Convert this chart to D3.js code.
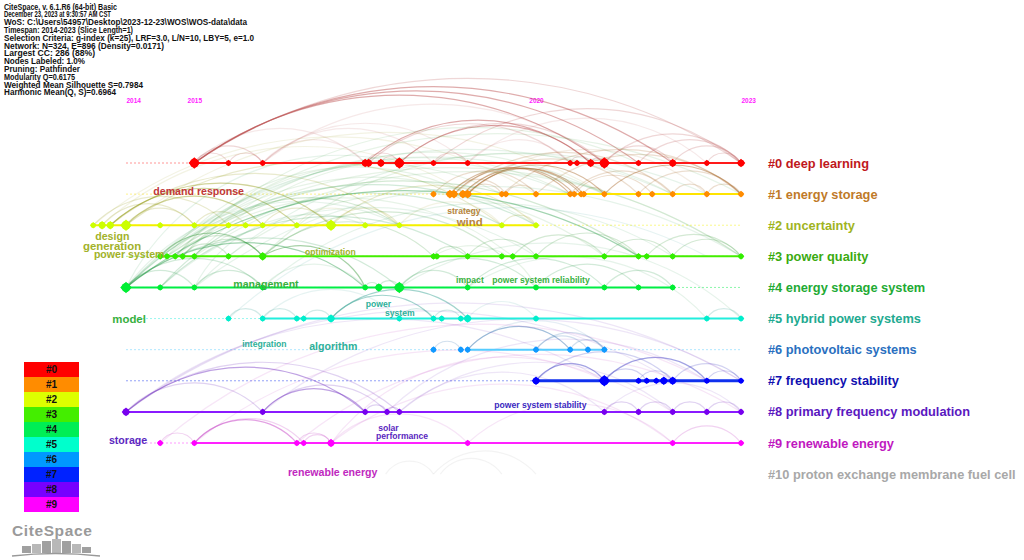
<!DOCTYPE html>
<html>
<head>
<meta charset="utf-8">
<script src="https://cdn.jsdelivr.net/npm/d3@7"></script>
<style>
    body { margin: 0; background: #fff; }
    svg { display: block; font-family: 'Liberation Sans', Arial, sans-serif; }
</style>
</head>
<body>
<svg id="mainSvg" width="1024" height="560"></svg>
<script>
// * header lines of the CiteSpace run
let headerLines = [
    'CiteSpace, v. 6.1.R6 (64-bit) Basic',
    'December 23, 2023 at 9:30:57 AM CST',
    'WoS: C:\\Users\\54957\\Desktop\\2023-12-23\\WOS\\WOS-data\\data',
    'Timespan: 2014-2023 (Slice Length=1)',
    'Selection Criteria: g-index (k=25), LRF=3.0, L/N=10, LBY=5, e=1.0',
    'Network: N=324, E=896 (Density=0.0171)',
    'Largest CC: 286 (88%)',
    'Nodes Labeled: 1.0%',
    'Pruning: Pathfinder',
    'Modularity Q=0.6175',
    'Weighted Mean Silhouette S=0.7984',
    'Harmonic Mean(Q, S)=0.6964'
]
// * printed width of each header line (the CiteSpace font is narrow)
let headerWidths = [113, 107, 243, 129, 250, 160, 91, 81, 76, 71, 139, 112]

let yearTicks = [2014, 2015, 2020, 2023]

let clusterNames = [
    '#0 deep learning', '#1 energy storage', '#2 uncertainty', '#3 power quality',
    '#4 energy storage system', '#5 hybrid power systems', '#6 photovoltaic systems',
    '#7 frequency stability', '#8 primary frequency modulation', '#9 renewable energy',
    '#10 proton exchange membrane fuel cell'
]

// * nodes per cluster: [year, size class]
let nodes0 = [[2015, 3], [2015.5, 1], [2016, 1], [2017.5, 2], [2017.55, 2], [2017.73, 2], [2018, 3], [2018.5, 1], [2019, 1],
    [2020.5, 1], [2020.6, 1], [2020.8, 2], [2021, 3], [2021.5, 1], [2022, 2], [2022.5, 1], [2023, 2]]
let nodes1 = [[2018.5, 1], [2018.74, 2], [2018.8, 2], [2018.93, 2], [2019, 2], [2019.5, 1], [2019.56, 1], [2020, 1], [2020.5, 1],
    [2020.56, 1], [2020.66, 1], [2020.7, 1], [2021, 1], [2021.5, 1], [2021.7, 1], [2022, 1], [2022.5, 1], [2023, 1]]
let nodes2 = [[2013.52, 1], [2013.65, 2], [2013.77, 2], [2014, 3], [2014.5, 1], [2015, 1], [2015.5, 1], [2015.75, 1], [2016, 1],
    [2016.5, 1], [2017, 3], [2017.5, 1], [2018, 1], [2019.5, 1], [2020, 1]]
let nodes3 = [[2014.5, 1], [2014.6, 1], [2014.72, 1], [2014.83, 1], [2015, 1], [2015.5, 1], [2016, 2], [2018.5, 1], [2018.55, 1],
    [2019, 1], [2019.5, 1], [2019.66, 1], [2020, 1], [2021, 1], [2021.5, 1], [2021.62, 1], [2022, 1], [2023, 1]]
let nodes4 = [[2014, 3], [2014.5, 1], [2015, 1], [2016, 1], [2017.5, 1], [2017.7, 2], [2018, 3], [2019, 1], [2020, 1],
    [2021, 1], [2021.5, 1], [2022, 1]]
let nodes5 = [[2015.5, 1], [2016, 1], [2016.5, 1], [2016.6, 1], [2017, 2], [2018, 1], [2018.5, 1], [2018.62, 1], [2018.9, 1],
    [2019, 2], [2020, 1], [2022.5, 1], [2023, 1]]
let nodes6 = [[2018.5, 1], [2018.9, 1], [2019, 1], [2020, 1], [2020.5, 1], [2020.76, 1], [2021, 1]]
let nodes7 = [[2020, 2], [2021, 3], [2021.5, 1], [2021.62, 1], [2021.76, 1], [2021.87, 2], [2022, 2], [2022.5, 1], [2023, 1]]
let nodes8 = [[2014, 2], [2016, 1], [2017.5, 1], [2017.82, 1], [2018, 1], [2021, 1], [2021.5, 1], [2022, 1], [2022.5, 1], [2023, 1]]
let nodes9 = [[2014.5, 1], [2015, 1], [2016.5, 1], [2016.6, 1], [2017, 2], [2019, 1], [2022, 1], [2023, 1]]
let clusterNodes = [nodes0, nodes1, nodes2, nodes3, nodes4, nodes5, nodes6, nodes7, nodes8, nodes9, []]

// * active span of each timeline [from, to]
let activeSpan = [[2015, 2023], [2019, 2023], [2013.52, 2020], [2014.5, 2023], [2014, 2022], [2016, 2023],
    [2019, 2021], [2020, 2023], [2014, 2023], [2015, 2023], null]

// * co-citation links: [cluster, year, cluster, year, strength 1 strong .. 3 faint]
let links = [
    [0, 2015, 0, 2023, 2], [0, 2015, 0, 2022, 1], [0, 2015, 0, 2021.5, 1], [0, 2015, 0, 2021, 1], [0, 2015, 0, 2015.5, 2],
    [0, 2015.5, 0, 2016, 2], [0, 2015, 0, 2016, 2], [0, 2016, 0, 2017.5, 3], [0, 2017.5, 0, 2018, 2], [0, 2017.73, 0, 2018, 2],
    [0, 2017.5, 0, 2020.8, 1], [0, 2017.55, 0, 2020.5, 2], [0, 2018, 0, 2020.8, 1], [0, 2018, 0, 2021, 2], [0, 2018.5, 0, 2023, 2],
    [0, 2018.5, 0, 2019, 2], [0, 2019, 0, 2020.5, 3], [0, 2020.5, 0, 2020.8, 2], [0, 2020.8, 0, 2021, 2], [0, 2021, 0, 2023, 2],
    [0, 2021.5, 0, 2023, 2], [0, 2022, 0, 2023, 2], [0, 2022.5, 0, 2023, 2], [0, 2021, 0, 2022, 2], [0, 2016, 0, 2019, 3],
    [0, 2016, 0, 2018.5, 3], [0, 2015, 0, 2017.5, 3], [0, 2019, 0, 2022.5, 3], [0, 2016, 0, 2021, 3],

    [1, 2018.74, 1, 2020.5, 1], [1, 2018.8, 1, 2020.56, 1], [1, 2018.93, 1, 2020.66, 1], [1, 2019, 1, 2020.7, 1],
    [1, 2018.5, 1, 2020, 2], [1, 2019, 1, 2021, 1], [1, 2018.93, 1, 2021.5, 2], [1, 2019.5, 1, 2023, 2], [1, 2020, 1, 2023, 2],
    [1, 2021, 1, 2023, 1], [1, 2021.5, 1, 2023, 2], [1, 2020.5, 1, 2022, 2], [1, 2020.56, 1, 2021.7, 2], [1, 2022, 1, 2022.5, 2],
    [1, 2022.5, 1, 2023, 2], [1, 2019, 1, 2019.5, 2], [1, 2019.56, 1, 2020, 2], [1, 2020.7, 1, 2021, 2], [1, 2018.8, 1, 2022, 2],
    [1, 2019, 1, 2022.5, 3], [1, 2018.74, 1, 2019.56, 2],

    [2, 2013.77, 2, 2016.5, 1], [2, 2013.77, 2, 2017, 1], [2, 2014, 2, 2016, 1], [2, 2013.65, 2, 2015, 2], [2, 2013.52, 2, 2015.5, 2],
    [2, 2014, 2, 2015, 2], [2, 2013.77, 2, 2018, 2], [2, 2014, 2, 2019.5, 2], [2, 2015, 2, 2015.75, 2], [2, 2016, 2, 2017, 2],
    [2, 2017, 2, 2018, 2], [2, 2017, 2, 2020, 2], [2, 2018, 2, 2019.5, 3], [2, 2019.5, 2, 2020, 2], [2, 2016.5, 2, 2017.5, 3],
    [2, 2013.52, 1, 2020, 3], [2, 2013.65, 1, 2019, 3], [2, 2014, 1, 2021, 3],

    [3, 2014.5, 3, 2016, 1], [3, 2014.72, 3, 2016, 2], [3, 2014.83, 3, 2015.5, 2], [3, 2015, 3, 2016, 2], [3, 2016, 3, 2018.5, 2],
    [3, 2016, 3, 2019.5, 2], [3, 2018.5, 3, 2019, 2], [3, 2019, 3, 2020, 2], [3, 2019.66, 3, 2021, 2], [3, 2020, 3, 2021.5, 2],
    [3, 2021, 3, 2022, 2], [3, 2021.62, 3, 2023, 2], [3, 2022, 3, 2023, 2], [3, 2014.5, 3, 2023, 3], [3, 2014.6, 3, 2021.5, 2],
    [4, 2014, 3, 2021.5, 1], [4, 2014, 2, 2020, 2], [3, 2014.72, 1, 2019.5, 3], [3, 2014.83, 1, 2021, 3], [4, 2014, 1, 2020.5, 3],
    [3, 2014.6, 2, 2020, 3], [4, 2014.5, 3, 2019, 2], [3, 2015, 3, 2023, 3], [4, 2014, 0, 2018, 3], [4, 2014, 1, 2021, 3],
    [4, 2014, 1, 2022, 3], [3, 2014.5, 1, 2023, 3], [3, 2014.72, 0, 2021.5, 3], [4, 2015, 1, 2022.5, 3], [3, 2016, 4, 2017.5, 1],
    [3, 2018.5, 4, 2020, 3], [4, 2014.5, 2, 2019.5, 2], [3, 2014.83, 2, 2018, 2], [3, 2015, 1, 2020.5, 3], [3, 2014.6, 1, 2019, 3],
    [4, 2015, 2, 2017.5, 3], [4, 2014.5, 3, 2020, 3], [3, 2015.5, 3, 2021, 3], [4, 2016, 3, 2022, 3], [3, 2016, 1, 2022, 3],
    [4, 2014, 2, 2018, 3], [3, 2014.72, 3, 2019.66, 3], [4, 2015, 3, 2023, 3],

    [4, 2014, 4, 2015, 2], [4, 2014, 4, 2016, 2], [4, 2014, 4, 2017.5, 1], [4, 2015, 4, 2016, 2], [4, 2016, 4, 2017.5, 3],
    [4, 2017.5, 4, 2017.7, 2], [4, 2017.7, 4, 2018, 2], [4, 2018, 4, 2019, 2], [4, 2018, 4, 2020, 2], [4, 2019, 4, 2021, 2],
    [4, 2020, 4, 2021.5, 2], [4, 2021, 4, 2022, 2], [4, 2014, 4, 2018, 2], [4, 2018, 5, 2023, 3], [4, 2019, 5, 2022.5, 3],

    [5, 2015.5, 5, 2016, 2], [5, 2016, 5, 2016.5, 2], [5, 2016.6, 5, 2017, 2], [5, 2017, 5, 2018.5, 1], [5, 2017, 5, 2019, 1],
    [5, 2018, 5, 2018.5, 2], [5, 2018.5, 5, 2018.9, 2], [5, 2019, 5, 2020, 3], [5, 2016, 5, 2018, 3], [5, 2022.5, 5, 2023, 2],
    [5, 2015.5, 3, 2022.5, 3],

    [6, 2018.5, 6, 2018.9, 2], [6, 2019, 6, 2020.5, 1], [6, 2020, 6, 2020.76, 2], [6, 2020.5, 6, 2021, 2], [6, 2019, 6, 2021, 3],
    [6, 2020, 6, 2021, 2],

    [7, 2020, 7, 2021, 1], [7, 2021, 7, 2022.5, 1], [7, 2020, 7, 2022, 2], [7, 2022.5, 7, 2023, 2], [7, 2022, 7, 2023, 2],
    [7, 2021, 7, 2021.62, 2], [7, 2021.5, 7, 2022, 2],

    [8, 2014, 8, 2016, 2], [8, 2014, 8, 2017.5, 1], [8, 2014, 8, 2018, 2], [8, 2016, 8, 2017.5, 1], [8, 2016, 8, 2017.82, 2],
    [8, 2017.5, 8, 2017.82, 2], [8, 2017.82, 8, 2018, 2], [8, 2021, 8, 2021.5, 2], [8, 2021.5, 8, 2022, 2], [8, 2022, 8, 2022.5, 2],
    [8, 2022.5, 8, 2023, 2], [8, 2021, 8, 2023, 3], [8, 2018, 8, 2021, 3], [8, 2014, 7, 2021, 3], [8, 2014, 7, 2022, 3],
    [8, 2014, 7, 2023, 3], [8, 2016, 7, 2023, 3], [8, 2017.82, 7, 2022.5, 3], [8, 2018, 8, 2022, 3],

    [9, 2014.5, 9, 2015, 2], [9, 2015, 9, 2016.5, 1], [9, 2015, 9, 2016.6, 2], [9, 2016.5, 9, 2017, 2], [9, 2016.6, 9, 2017, 2],
    [9, 2017, 9, 2022, 3], [9, 2019, 9, 2022, 3], [9, 2022, 9, 2023, 2], [9, 2017, 9, 2019, 3], [9, 2014.5, 7, 2022.5, 3],
    [9, 2015, 8, 2022, 3], [9, 2017, 7, 2021, 3], [9, 2016.5, 8, 2023, 3],

    [10, 2018.5, 10, 2020, 3], [10, 2018.6, 10, 2019.5, 3], [10, 2017.8, 10, 2018.5, 3]
]

// * keyword labels: text, cluster, year anchor, row anchor, prominence
let keywords = [
    ['demand response', 0, 2014.40, 1.03, 2],
    ['design', 2, 2013.55, 2.48, 2],
    ['generation', 2, 2013.37, 2.80, 3],
    ['power system', 2, 2013.53, 3.05, 2],
    ['strategy', 1, 2018.70, 1.64, 1],
    ['wind', 1, 2018.84, 2.03, 3],
    ['optimization', 2, 2016.62, 2.96, 1],
    ['management', 4, 2015.57, 4.02, 2],
    ['impact', 4, 2018.83, 3.86, 1],
    ['power system reliability', 4, 2019.36, 3.86, 1],
    ['model', 4, 2013.80, 5.14, 3],
    ['power', 5, 2017.51, 4.63, 1],
    ['system', 5, 2017.79, 4.92, 1],
    ['integration', 5, 2015.70, 5.92, 1],
    ['algorithm', 5, 2016.68, 6.01, 2],
    ['power system stability', 7, 2019.39, 7.88, 1],
    ['storage', 8, 2013.75, 9.04, 2],
    ['solar', 8, 2017.69, 8.62, 1],
    ['performance', 8, 2017.66, 8.87, 1],
    ['renewable energy', 9, 2016.37, 10.06, 2]
]

// * colours per cluster
let nodeColors = ['#ff0000', '#ff8c00', '#ccff00', '#33ee00', '#00ee33', '#00eecc', '#1199ff', '#0000ff', '#7700ee', '#ff00ff', '#bbbbbb']
let lineColors = ['#ff1a1a', '#ffe400', '#f4f000', '#44ee00', '#00ee44', '#22eedd', '#55ccff', '#1030ee', '#8a1aff', '#ff22ff', '#cccccc']
let linkColors = ['#b84848', '#a8682a', '#9aa020', '#3a9a3a', '#30a050', '#30a090', '#3070b0', '#3030c0', '#7030c0', '#c030c0', '#999999']
let textColors = ['#c0181c', '#c07a28', '#a0b41e', '#3aaa10', '#22aa33', '#22aa90', '#2a70c0', '#1010b0', '#5a18c0', '#c018c0', '#a8a8a8']
let keywordColors = ['#c0383a', '#b8843c', '#a2b22a', '#3aaa10', '#38b040', '#2eb09a', '#2a70c0', '#3a28c0', '#5a28c0', '#c028c0', '#a8a8a8']
let legendColors = ['#ff0000', '#ff8c00', '#ddff00', '#44ee00', '#00ee55', '#00ffcc', '#0099ff', '#0022ff', '#7700ff', '#ff00ff']

let svg = d3.select('#mainSvg')
svg.append('rect').attr('width', 1024).attr('height', 560).attr('fill', '#fff')

let x = d3.scaleLinear().domain([2014, 2023]).range([126, 741])
let y = d3.scaleLinear().domain([0, 9]).range([163, 443])

// * header text, fitted to the narrow CiteSpace font
svg.append('g').selectAll('text')
    .data(headerLines)
    .enter()
    .append('text')
    .attr('x', 4)
    .attr('y', (d, i) => 9.5 + i * 7.8)
    .attr('font-size', 8.2)
    .attr('font-weight', 'bold')
    .attr('fill', '#111')
    .attr('textLength', (d, i) => headerWidths[i])
    .attr('lengthAdjust', 'spacingAndGlyphs')
    .text(d => d)

// * year axis
let axis = d3.axisTop(x).tickValues(yearTicks).tickFormat(d3.format('d')).tickSize(0)
let axisG = svg.append('g').attr('transform', 'translate(0,106)').call(axis)
axisG.select('.domain').remove()
axisG.selectAll('text')
    .attr('fill', '#ff22ff')
    .attr('font-size', 6.5)
    .attr('font-weight', 'bold')
    .attr('font-family', "'Liberation Sans', Arial, sans-serif")
    .attr('dy', 0)
    .attr('text-anchor', (d, i) => (i === 0 || i === yearTicks.length - 1) ? 'start' : 'middle')

// * dotted full-span guide lines
let rows = d3.range(clusterNames.length - 1)
svg.append('g').selectAll('line')
    .data(rows)
    .enter()
    .append('line')
    .attr('x1', x(2014)).attr('x2', x(2023))
    .attr('y1', d => y(d)).attr('y2', d => y(d))
    .attr('stroke', d => lineColors[d])
    .attr('stroke-width', 1)
    .attr('stroke-dasharray', '2,2')
    .attr('opacity', 0.45)

// * arcs between co-cited nodes
let arcPath = function (l) {
    let x1 = x(l[1]), y1 = y(l[0]), x2 = x(l[3]), y2 = y(l[2])
    if (x1 > x2) {
        [x1, x2] = [x2, x1];
        [y1, y2] = [y2, y1]
    }
    let d = Math.hypot(x2 - x1, y2 - y1)
    let h = 0.66 * Math.pow(d, 0.77)
    let r = (d * d / 4 + h * h) / (2 * h)
    return 'M' + x1 + ' ' + y1 + ' A' + r + ' ' + r + ' 0 0 1 ' + x2 + ' ' + y2
}
let strengthOpacity = {1: 0.45, 2: 0.22, 3: 0.12}
svg.append('g').selectAll('path')
    .data(links)
    .enter()
    .append('path')
    .attr('d', arcPath)
    .attr('fill', 'none')
    .attr('stroke', d => linkColors[d[0]])
    .attr('stroke-width', 1.2)
    .attr('opacity', d => strengthOpacity[d[4]])

// * solid active spans
svg.append('g').selectAll('line')
    .data(rows.filter(r => activeSpan[r]))
    .enter()
    .append('line')
    .attr('x1', d => x(activeSpan[d][0])).attr('x2', d => x(activeSpan[d][1]))
    .attr('y1', d => y(d)).attr('y2', d => y(d))
    .attr('stroke', d => lineColors[d])
    .attr('stroke-width', d => d === 7 ? 3 : 2)

// * nodes
let nodeRadius = {1: 3.3, 2: 4.3, 3: 5.8}
let nodeData = []
clusterNodes.forEach((list, c) => list.forEach(n => nodeData.push({c: c, t: n[0], s: n[1]})))
let nodeG = svg.append('g').selectAll('g')
    .data(nodeData)
    .enter()
    .append('g')
    .attr('transform', d => 'translate(' + x(d.t) + ',' + y(d.c) + ')')
nodeG.append('path')
    .attr('d', d => {
        let r = nodeRadius[d.s]
        return 'M0 ' + (-r) + ' L' + r + ' 0 L0 ' + r + ' L' + (-r) + ' 0Z'
    })
    .attr('fill', d => nodeColors[d.c])
nodeG.append('circle')
    .attr('r', d => nodeRadius[d.s] * 0.78)
    .attr('fill', d => nodeColors[d.c])

// * keyword labels
let keywordSize = {1: 8.6, 2: 10.6, 3: 11.4}
svg.append('g').selectAll('text')
    .data(keywords)
    .enter()
    .append('text')
    .attr('x', d => x(d[2]))
    .attr('y', d => y(d[3]))
    .attr('font-size', d => keywordSize[d[4]])
    .attr('font-weight', 'bold')
    .attr('fill', d => keywordColors[d[1]])
    .text(d => d[0])

// * cluster labels on the right
svg.append('g').selectAll('text')
    .data(clusterNames)
    .enter()
    .append('text')
    .attr('x', 768)
    .attr('y', (d, i) => y(i) + 4.5)
    .attr('font-size', 12.8)
    .attr('font-weight', 'bold')
    .attr('fill', (d, i) => textColors[i])
    .text(d => d)

// * colour legend
let legend = svg.append('g').attr('transform', 'translate(24,362)')
legend.selectAll('rect')
    .data(legendColors)
    .enter()
    .append('rect')
    .attr('x', 0)
    .attr('y', (d, i) => i * 15)
    .attr('width', 55)
    .attr('height', 15)
    .attr('fill', d => d)
legend.selectAll('text')
    .data(legendColors)
    .enter()
    .append('text')
    .attr('x', 27.5)
    .attr('y', (d, i) => i * 15 + 11)
    .attr('text-anchor', 'middle')
    .attr('font-size', 10)
    .attr('font-weight', 'bold')
    .attr('fill', '#111')
    .text((d, i) => '#' + i)

// * CiteSpace logo
let logo = svg.append('g')
logo.append('text')
    .attr('x', 12).attr('y', 536)
    .attr('font-size', 15.5)
    .attr('font-weight', 'bold')
    .attr('fill', '#9a9a9a')
    .attr('letter-spacing', 0.6)
    .text('CiteSpace')
let bars = [[22, 7], [32, 9], [42, 12], [52, 14], [62, 12], [72, 9], [82, 6]]
logo.selectAll('rect')
    .data(bars)
    .enter()
    .append('rect')
    .attr('x', d => d[0])
    .attr('y', d => 553 - d[1])
    .attr('width', 9)
    .attr('height', d => d[1])
    .attr('fill', (d, i) => i % 2 ? '#b8b8b8' : '#a0a0a0')
logo.append('path')
    .attr('d', 'M12 556 Q55 551 100 556')
    .attr('fill', 'none')
    .attr('stroke', '#999')
    .attr('stroke-width', 1.5)
</script>
</body>
</html>
